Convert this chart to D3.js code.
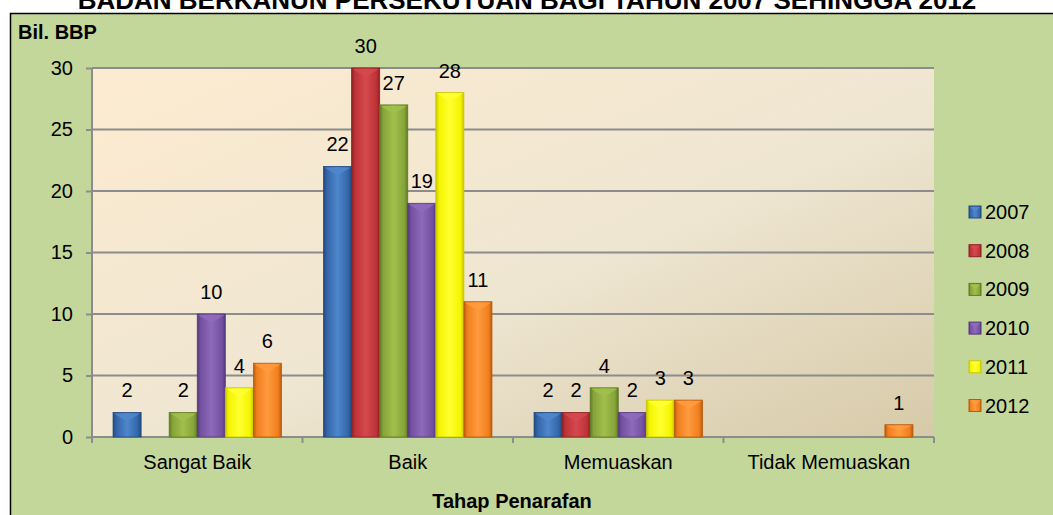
<!DOCTYPE html>
<html>
<head>
<meta charset="utf-8">
<script src="https://cdn.jsdelivr.net/npm/d3@7"></script>
<style>
  body { margin: 0; background: #fff; }
  svg { display: block; font-family: Arial, "Liberation Sans", sans-serif; }
</style>
</head>
<body>
<svg id="chart" width="1053" height="515"></svg>
<script>
// chart values
var categories = ["Sangat Baik", "Baik", "Memuaskan", "Tidak Memuaskan"];
var years = ["2007", "2008", "2009", "2010", "2011", "2012"];
var v2007 = [2, 22, 2, 0];
var v2008 = [0, 30, 2, 0];
var v2009 = [2, 27, 4, 0];
var v2010 = [10, 19, 2, 0];
var v2011 = [4, 28, 3, 0];
var v2012 = [6, 11, 3, 1];
var yTicks = [0, 5, 10, 15, 20, 25, 30];

var seriesVals = [v2007, v2008, v2009, v2010, v2011, v2012];
// base colour, light, dark for each year
var colors = [
  ["#3465a8", "#4f86cc", "#204a80"],
  ["#be3337", "#d4494d", "#8e2023"],
  ["#87a33a", "#a0c04c", "#5f7a22"],
  ["#7450a0", "#8e6abb", "#553a7c"],
  ["#f4f400", "#ffff30", "#c8c800"],
  ["#f07f1e", "#ff9a3e", "#b95a0c"]
];

var svg = d3.select("#chart");
var defs = svg.append("defs");

// frame
svg.append("rect")
  .attr("x", 10.5).attr("y", 13.5)
  .attr("width", 1060).attr("height", 520)
  .attr("fill", "#c4d79b")
  .attr("stroke", "#000").attr("stroke-width", 1.5);

// title (clipped by top of window like the original)
svg.append("text")
  .attr("x", 527).attr("y", 9)
  .attr("text-anchor", "middle")
  .attr("font-weight", "bold")
  .attr("font-size", 26)
  .text("BADAN BERKANUN PERSEKUTUAN BAGI TAHUN 2007 SEHINGGA 2012");

var plotLeft = 92, plotRight = 934, plotTop = 68, plotBottom = 437;

var y = d3.scaleLinear().domain([0, 30]).range([plotBottom, plotTop]);
var x0 = d3.scaleBand().domain(categories).range([plotLeft, plotRight]);
var bw = x0.bandwidth();
var x1 = d3.scaleBand().domain(years).range([bw * 0.1, bw * 0.9]);

// plot background
var bg = defs.append("linearGradient").attr("id", "plotbg")
  .attr("x1", "0%").attr("y1", "0%").attr("x2", "100%").attr("y2", "100%");
bg.append("stop").attr("offset", "0%").attr("stop-color", "#fcebd0");
bg.append("stop").attr("offset", "55%").attr("stop-color", "#efe6d2");
bg.append("stop").attr("offset", "100%").attr("stop-color", "#d6caa8");

svg.append("rect")
  .attr("x", plotLeft).attr("y", plotTop)
  .attr("width", plotRight - plotLeft).attr("height", plotBottom - plotTop)
  .attr("fill", "url(#plotbg)");

// gridlines
svg.append("g").selectAll("line")
  .data(yTicks.filter(function(d) { return d > 0; }))
  .enter().append("line")
  .attr("x1", plotLeft).attr("x2", plotRight)
  .attr("y1", function(d) { return y(d); })
  .attr("y2", function(d) { return y(d); })
  .attr("stroke", "#8c8c8c").attr("stroke-width", 2);

// y axis
var yAxis = d3.axisLeft(y).tickValues(yTicks).tickSize(6).tickPadding(13);
var gy = svg.append("g").attr("transform", "translate(" + plotLeft + ",0)").call(yAxis);
gy.select(".domain").attr("stroke", "#8c8c8c").attr("stroke-width", 2)
  .attr("d", "M0," + plotTop + "V" + (plotBottom + 6));
gy.selectAll(".tick line").attr("stroke", "#8c8c8c").attr("stroke-width", 2);
gy.selectAll(".tick text").attr("font-size", 20).attr("fill", "#000")
  .attr("font-family", "Arial, 'Liberation Sans', sans-serif");

// x axis
var xAxis = d3.axisBottom(x0).tickSize(0).tickPadding(18);
var gx = svg.append("g").attr("transform", "translate(0," + plotBottom + ")").call(xAxis);
gx.select(".domain").attr("stroke", "#8c8c8c").attr("stroke-width", 2)
  .attr("d", "M" + plotLeft + ",0H" + plotRight);
gx.selectAll(".tick text").attr("font-size", 20).attr("fill", "#000")
  .attr("font-family", "Arial, 'Liberation Sans', sans-serif");
// category boundary ticks
svg.append("g").selectAll("line")
  .data(categories.concat(["end"]))
  .enter().append("line")
  .attr("x1", function(d, i) { return i < categories.length ? x0(d) : plotRight; })
  .attr("x2", function(d, i) { return i < categories.length ? x0(d) : plotRight; })
  .attr("y1", plotBottom).attr("y2", plotBottom + 6)
  .attr("stroke", "#8c8c8c").attr("stroke-width", 2);

// bar gradients
years.forEach(function(yr, i) {
  var g = defs.append("linearGradient").attr("id", "bar" + yr)
    .attr("x1", "0%").attr("x2", "100%").attr("y1", "0%").attr("y2", "0%");
  g.append("stop").attr("offset", "0%").attr("stop-color", colors[i][2]);
  g.append("stop").attr("offset", "12%").attr("stop-color", colors[i][0]);
  g.append("stop").attr("offset", "50%").attr("stop-color", colors[i][1]);
  g.append("stop").attr("offset", "88%").attr("stop-color", colors[i][0]);
  g.append("stop").attr("offset", "100%").attr("stop-color", colors[i][2]);
});

var bars = [];
categories.forEach(function(c, ci) {
  years.forEach(function(yr, si) {
    bars.push({cat: c, year: yr, si: si, value: seriesVals[si][ci]});
  });
});
var shown = bars.filter(function(d) { return d.value > 0; });

var barG = svg.append("g");
barG.selectAll("rect")
  .data(shown)
  .enter().append("rect")
  .attr("x", function(d) { return x0(d.cat) + x1(d.year); })
  .attr("y", function(d) { return y(d.value); })
  .attr("width", x1.bandwidth())
  .attr("height", function(d) { return plotBottom - y(d.value); })
  .attr("fill", function(d) { return "url(#bar" + d.year + ")"; })
  .attr("stroke", function(d) { return colors[d.si][2]; })
  .attr("stroke-width", 0.8);

// bevel on top of each bar
barG.selectAll("path.bevel")
  .data(shown)
  .enter().append("path")
  .attr("class", "bevel")
  .attr("d", function(d) {
    var bx = x0(d.cat) + x1(d.year), w = x1.bandwidth(), by = y(d.value);
    var h = Math.min(9, (plotBottom - by) / 2);
    return "M" + (bx + 1) + "," + (by + 1) + "H" + (bx + w - 1) + "L" + (bx + w / 2) + "," + (by + h) + "Z";
  })
  .attr("fill", function(d) { return colors[d.si][1]; })
  .attr("opacity", 0.9);

// value labels
svg.append("g").selectAll("text")
  .data(shown)
  .enter().append("text")
  .attr("x", function(d) { return x0(d.cat) + x1(d.year) + x1.bandwidth() / 2; })
  .attr("y", function(d) { return y(d.value) - 15; })
  .attr("text-anchor", "middle")
  .attr("font-size", 20)
  .text(function(d) { return d.value; });

// axis titles
svg.append("text")
  .attr("x", 18).attr("y", 39)
  .attr("font-weight", "bold").attr("font-size", 20)
  .text("Bil. BBP");
svg.append("text")
  .attr("x", 512).attr("y", 508)
  .attr("text-anchor", "middle")
  .attr("font-weight", "bold").attr("font-size", 20)
  .text("Tahap Penarafan");

// legend
var leg = svg.append("g").selectAll("g")
  .data(years)
  .enter().append("g")
  .attr("transform", function(d, i) { return "translate(969," + (212 + i * 38.7) + ")"; });
leg.append("rect")
  .attr("x", 0).attr("y", -6).attr("width", 12).attr("height", 12)
  .attr("fill", function(d) { return "url(#bar" + d + ")"; })
  .attr("stroke", function(d, i) { return colors[i][2]; });
leg.append("path")
  .attr("d", "M1,-5H11L6,0Z")
  .attr("fill", function(d, i) { return colors[i][1]; });
leg.append("text")
  .attr("x", 16).attr("y", 7)
  .attr("font-size", 20)
  .text(function(d) { return d; });
</script>
</body>
</html>
